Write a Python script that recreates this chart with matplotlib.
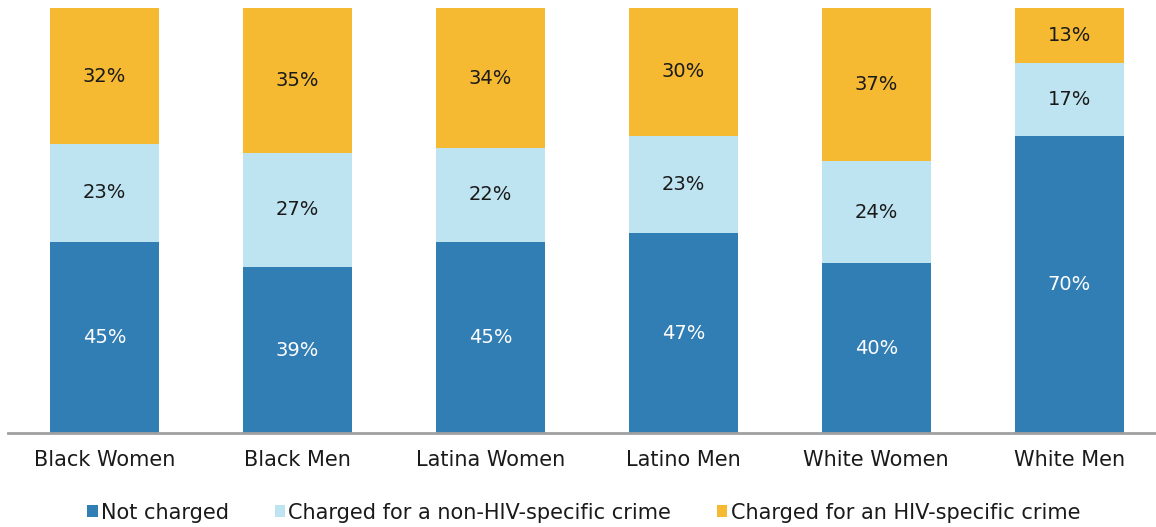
import numpy as np
import matplotlib
matplotlib.use("Agg")
import matplotlib.pyplot as plt

groups = ["Black Women", "Black Men", "Latina Women", "Latino Men", "White Women", "White Men"]
not_charged = [45, 39, 45, 47, 40, 70]
non_hiv = [23, 27, 22, 23, 24, 17]
hiv_specific = [32, 35, 34, 30, 37, 13]

series = [
    ("Not charged", not_charged, "#317eb5", "white"),
    ("Charged for a non-HIV-specific crime", non_hiv, "#bee3f1", "#1a1a1a"),
    ("Charged for an HIV-specific crime", hiv_specific, "#f5b932", "#1a1a1a"),
]

plt.rcParams["font.family"] = ["DejaVu Sans"]

fig = plt.figure(figsize=(11.56, 5.27), dpi=100)
ax = fig.add_axes([8 / 1156, 94 / 527, 1148 / 1156, 425 / 527])

x = np.arange(len(groups))
bottom = np.zeros(len(groups))
handles = []
for name, vals, color, tcolor in series:
    vals = np.array(vals, dtype=float)
    b = ax.bar(x, vals, 0.565, bottom=bottom, color=color, label=name)
    handles.append(b)
    for xi, v, bt in zip(x, vals, bottom):
        top = min(bt + v, 100)
        ax.text(xi, (bt + top) / 2, f"{int(v)}%", ha="center", va="center",
                color=tcolor, fontsize=14)
    bottom += vals

ax.set_xlim(-0.5, 5.45)
ax.set_ylim(0, 100)
ax.set_yticks([])
ax.set_xticks(x)
ax.set_xticklabels(groups, fontsize=15, color="#1a1a1a")
ax.tick_params(axis="x", length=0, pad=12)
for s in ["top", "right", "left"]:
    ax.spines[s].set_visible(False)
ax.spines["bottom"].set_color("#a0a0a0")
ax.spines["bottom"].set_linewidth(2)

fig.legend(handles=handles, loc="center", bbox_to_anchor=(0.505, 0.027), ncol=3,
           frameon=False, fontsize=15, handlelength=0.5, handleheight=0.5,
           handletextpad=0.15, columnspacing=2.2, labelcolor="#1a1a1a")

fig.savefig("out.png", dpi=100)
